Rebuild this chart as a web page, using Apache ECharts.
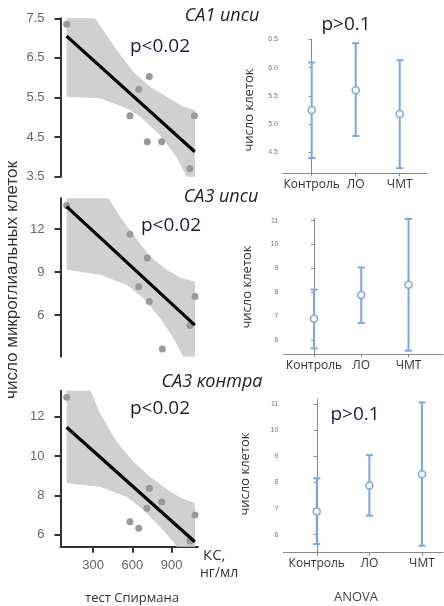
<!DOCTYPE html>
<html><head><meta charset="utf-8">
<script src="https://cdn.jsdelivr.net/npm/echarts@6/dist/echarts.min.js"></script>
<style>html,body{margin:0;padding:0;background:#fff}#c{width:444px;height:606px}</style>
</head><body><div id="c"></div>
<script>
// ---- data: Spearman panels (x = КС, нг/мл) ----
const xTicks = [300, 600, 900];
const fitX = [97, 1077];

const ca1X = [97, 729, 648, 581, 714, 824, 1074, 1040];
const ca1Y = [7.35, 6.03, 5.71, 5.04, 4.38, 4.38, 5.04, 3.71];
const ca1Fit = [7.05, 4.13];
const ca1UpX = [97, 314, 479, 607, 735, 862, 977, 1079];
const ca1Up = [7.5, 7.5, 6.70, 6.15, 5.77, 5.52, 5.29, 5.18];
const ca1LoX = [97, 352, 556, 658, 811, 938, 1015, 1079];
const ca1Lo = [5.52, 5.48, 5.23, 5.02, 4.55, 4.0, 3.5, 3.5];
const ca1Ticks = [3.5, 4.5, 5.5, 6.5, 7.5];

const ca3iX = [97, 581, 714, 648, 729, 829, 1079, 1040];
const ca3iY = [13.65, 11.65, 9.98, 7.97, 6.95, 3.63, 7.30, 5.27];
const ca3iFit = [13.58, 5.3];
const ca3iUpX = [97, 416, 505, 607, 735, 862, 977, 1079];
const ca3iUp = [14.16, 14.16, 12.88, 11.6, 10.09, 9.16, 8.58, 8.34];
const ca3iLoX = [97, 352, 556, 684, 811, 913, 989, 1079];
const ca3iLo = [9.16, 8.81, 8.11, 7.18, 5.79, 4.39, 3.09, 3.09];
const ca3iTicks = [6, 9, 12];

const ca3kX = [97, 729, 824, 711, 581, 648, 1079, 1040];
const ca3kY = [12.99, 8.36, 7.66, 7.34, 6.66, 6.33, 7.0, 5.68];
const ca3kFit = [11.46, 5.64];
const ca3kUpX = [97, 281, 352, 479, 607, 735, 862, 977, 1079];
const ca3kUp = [13.32, 13.32, 12.17, 10.73, 9.71, 8.95, 8.31, 7.85, 7.6];
const ca3kLoX = [97, 352, 556, 684, 811, 913, 938, 1079];
const ca3kLo = [8.61, 8.44, 7.93, 7.26, 6.41, 5.64, 5.39, 5.39];
const ca3kTicks = [6, 8, 10, 12];

// ---- data: ANOVA panels ----
const groups = ['Контроль', 'ЛО', 'ЧМТ'];
const r1Mean = [5.25, 5.60, 5.18], r1Hi = [6.09, 6.43, 6.13], r1Lo = [4.40, 4.79, 4.22];
const r1Ticks = [4.5, 5.0, 5.5, 6.0, 6.5];
const r2Mean = [6.89, 7.89, 8.31], r2Hi = [8.11, 9.04, 11.07], r2Lo = [5.65, 6.71, 5.55];
const r3Mean = [6.89, 7.89, 8.32], r3Hi = [8.16, 9.05, 11.07], r3Lo = [5.64, 6.73, 5.58];
const r23Ticks = [6, 7, 8, 9, 10, 11];

const BLUE = '#7aa7e3';
const AX = '#333';

const grids = [
  {left: 60.5, top: 18.3, width: 137.3, height: 158.4},
  {left: 60.5, top: 198.3, width: 137.3, height: 158.4},
  {left: 60.5, top: 390.7, width: 137.3, height: 156},
  {left: 283, top: 39.3, width: 144, height: 134},
  {left: 283.3, top: 218.3, width: 159.7, height: 136},
  {left: 283.3, top: 399.3, width: 159.7, height: 153.4}
].map(g => Object.assign({containLabel: false, outerBoundsMode: 'none'}, g));

function leftX(i, show) {
  return {type: 'value', gridIndex: i, min: 50, max: 1100, show: show,
    splitLine: {show: false},
    axisLine: {show: true, lineStyle: {color: AX, width: 2}},
    axisTick: {show: true, length: 6, lineStyle: {color: AX, width: 2}, customValues: xTicks},
    axisLabel: {show: true, customValues: xTicks, fontSize: 13, color: '#666', margin: 12, fontFamily: 'Liberation Sans'}};
}
function leftY(i, min, max, ticks) {
  return {type: 'value', gridIndex: i, min: min, max: max,
    splitLine: {show: false},
    axisLine: {show: true, lineStyle: {color: AX, width: 2}},
    axisTick: {show: true, length: 6, lineStyle: {color: AX, width: 2}, customValues: ticks},
    axisLabel: {customValues: ticks, fontSize: 13, color: '#666', margin: 16, fontFamily: 'Liberation Sans',
      formatter: v => (ticks === ca1Ticks ? v.toFixed(1) : String(v))}};
}
function rightX(i, min, max) {
  return {type: 'value', gridIndex: i, min: min, max: max,
    splitLine: {show: false},
    axisLine: {show: true, lineStyle: {color: '#888', width: 1}},
    axisTick: {show: true, length: 3, lineStyle: {color: '#888'}, customValues: [0, 1, 2]},
    axisLabel: {customValues: [0, 1, 2], formatter: v => groups[Math.round(v)], fontSize: 12, color: '#333', margin: 5, fontFamily: 'Open Sans'}};
}
function rightY(i, min, max, ticks, dec) {
  return {type: 'value', gridIndex: i, min: min, max: max,
    splitLine: {show: false},
    axisLine: {show: true, lineStyle: {color: '#888', width: 1}},
    axisTick: {show: true, length: 3, lineStyle: {color: '#888'}, customValues: ticks},
    axisLabel: {customValues: ticks, fontSize: 7, color: '#777', margin: 5, fontFamily: 'Liberation Sans',
      formatter: v => dec ? v.toFixed(1) : String(v)}};
}

function bandSeries(i, upX, up, loX, lo) {
  return {type: 'custom', xAxisIndex: i, yAxisIndex: i, silent: true, z: 1,
    data: [[upX[0], up[0]]],
    renderItem: (params, api) => {
      const pts = upX.map((x, k) => api.coord([x, up[k]]));
      for (let k = loX.length - 1; k >= 0; k--) pts.push(api.coord([loX[k], lo[k]]));
      return {type: 'polygon', shape: {points: pts}, style: {fill: '#d0d0d0'}};
    }};
}
function pointsSeries(i, xs, ys) {
  return {type: 'scatter', xAxisIndex: i, yAxisIndex: i, z: 3, symbolSize: 7,
    itemStyle: {color: '#999', opacity: 1}, data: xs.map((x, k) => [x, ys[k]])};
}
function fitSeries(i, ys) {
  return {type: 'line', xAxisIndex: i, yAxisIndex: i, z: 4, symbol: 'none',
    lineStyle: {color: '#000', width: 3.2}, data: fitX.map((x, k) => [x, ys[k]])};
}
function errSeries(i, lo, hi) {
  return {type: 'custom', xAxisIndex: i, yAxisIndex: i, z: 2,
    encode: {x: 0, y: [1, 2]},
    data: groups.map((g, k) => [k, lo[k], hi[k]]),
    renderItem: (params, api) => {
      const x = api.value(0);
      const a = api.coord([x, api.value(1)]), b = api.coord([x, api.value(2)]);
      const w = 3.5, st = {stroke: BLUE, lineWidth: 2};
      return {type: 'group', children: [
        {type: 'line', shape: {x1: a[0], y1: a[1], x2: b[0], y2: b[1]}, style: st},
        {type: 'line', shape: {x1: a[0] - w, y1: a[1], x2: a[0] + w, y2: a[1]}, style: st},
        {type: 'line', shape: {x1: b[0] - w, y1: b[1], x2: b[0] + w, y2: b[1]}, style: st}
      ]};
    }};
}
function meanSeries(i, m) {
  return {type: 'scatter', xAxisIndex: i, yAxisIndex: i, z: 5, symbol: 'circle', symbolSize: 7,
    itemStyle: {color: '#fff', borderColor: BLUE, borderWidth: 1.5, opacity: 1},
    data: m.map((v, k) => [k, v])};
}

function txt(text, x, y, font, fill, align, extra) {
  return Object.assign({type: 'text', x: x, y: y, silent: true, z: 100,
    style: {text: text, font: font, fill: fill, align: align || 'center', verticalAlign: 'middle',
      textAlign: align || 'center', textVerticalAlign: 'middle'}}, extra || {});
}
const pFont = '19px "Open Sans"';
const tFont = 'italic 18px "Open Sans"';
const pCol = '#1c1c3a';

const option = {
  animation: false,
  backgroundColor: '#fff',
  grid: grids,
  xAxis: [leftX(0, false), leftX(1, false), leftX(2, true),
    rightX(3, -0.652, 2.62), rightX(4, -0.65, 2.73), rightX(5, -0.636, 2.40)],
  yAxis: [leftY(0, 3.5, 7.5, ca1Ticks), leftY(1, 3.09, 14.16, ca3iTicks), leftY(2, 5.39, 13.32, ca3kTicks),
    rightY(3, 4.13, 6.5, r1Ticks, true), rightY(4, 5.4, 11.1, r23Ticks, false), rightY(5, 5.31, 11.19, r23Ticks, false)],
  series: [
    bandSeries(0, ca1UpX, ca1Up, ca1LoX, ca1Lo), pointsSeries(0, ca1X, ca1Y), fitSeries(0, ca1Fit),
    bandSeries(1, ca3iUpX, ca3iUp, ca3iLoX, ca3iLo), pointsSeries(1, ca3iX, ca3iY), fitSeries(1, ca3iFit),
    bandSeries(2, ca3kUpX, ca3kUp, ca3kLoX, ca3kLo), pointsSeries(2, ca3kX, ca3kY), fitSeries(2, ca3kFit),
    errSeries(3, r1Lo, r1Hi), meanSeries(3, r1Mean),
    errSeries(4, r2Lo, r2Hi), meanSeries(4, r2Mean),
    errSeries(5, r3Lo, r3Hi), meanSeries(5, r3Mean)
  ],
  graphic: [
    txt('число микроглиальных клеток', 12, 280, '17px "Liberation Sans"', '#333', 'center', {rotation: Math.PI / 2}),
    txt('СА1 ипси', 222, 16, tFont, '#222'),
    txt('СА3 ипси', 221, 197, tFont, '#222'),
    txt('СА3 контра', 212, 382, tFont, '#222'),
    txt('p<0.02', 160, 47, pFont, pCol),
    txt('p<0.02', 171, 226, pFont, pCol),
    txt('p<0.02', 160, 409, pFont, pCol),
    txt('p>0.1', 346, 25, pFont, pCol),
    txt('p>0.1', 355, 415, pFont, pCol),
    txt('число клеток', 249, 110, '13px "Open Sans"', '#333', 'center', {rotation: Math.PI / 2}),
    txt('число клеток', 247, 287, '13px "Open Sans"', '#333', 'center', {rotation: Math.PI / 2}),
    txt('число клеток', 245, 474, '13px "Open Sans"', '#333', 'center', {rotation: Math.PI / 2}),
    txt('КС,', 203, 556, '15px "Open Sans"', '#333', 'left'),
    txt('нг/мл', 200, 573, '14px "Open Sans"', '#333', 'left'),
    txt('тест Спирмана', 132, 598, '13px "Open Sans"', '#333'),
    txt('ANOVA', 356, 597, '13px "Open Sans"', '#444')
  ]
};
echarts.init(document.getElementById('c'), null, {renderer: 'canvas'}).setOption(option);
</script></body></html>
